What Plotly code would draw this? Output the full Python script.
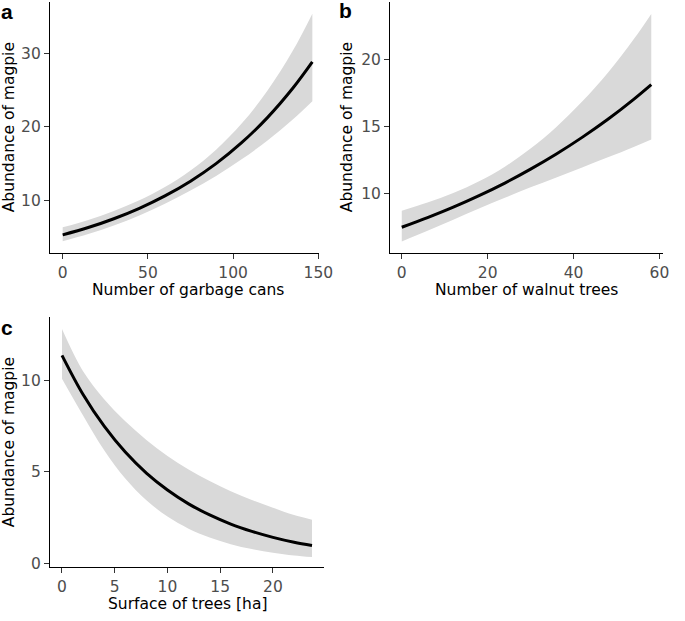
import plotly.graph_objects as go

W, H = 685, 621

# Panel a: garbage cans
a_x = [0, 15, 30, 45, 60, 75, 90, 105, 120, 135, 146.5]
a_fit = [5.30, 6.30, 7.50, 8.92, 10.61, 12.62, 15.01, 17.86, 21.24, 25.27, 28.87]
a_upper = [6.33, 7.34, 8.56, 10.01, 11.81, 14.06, 16.90, 20.46, 24.89, 30.37, 35.44]
a_lower = [4.44, 5.41, 6.58, 7.95, 9.53, 11.33, 13.33, 15.59, 18.13, 21.02, 23.52]

# Panel b: walnut trees
b_x = [0, 6, 12, 18, 24, 30, 36, 42, 48, 54, 58.1]
b_fit = [7.50, 8.22, 9.00, 9.86, 10.80, 11.84, 12.97, 14.21, 15.56, 17.05, 18.15]
b_upper = [8.73, 9.34, 10.05, 10.93, 12.02, 13.38, 14.99, 16.88, 19.04, 21.53, 23.43]
b_lower = [6.44, 7.23, 8.06, 8.90, 9.70, 10.48, 11.22, 11.96, 12.72, 13.50, 14.06]

# Panel c: surface of trees
c_x = [0, 2, 4, 6, 8, 10, 12, 14, 16, 18, 20, 22, 23.7]
c_fit = [11.40, 9.25, 7.51, 6.09, 4.94, 4.01, 3.25, 2.64, 2.14, 1.74, 1.41, 1.14, 0.96]
c_upper = [12.84, 10.52, 8.99, 7.78, 6.76, 5.88, 5.13, 4.50, 3.94, 3.46, 3.03, 2.64, 2.38]
c_lower = [10.12, 8.10, 6.19, 4.64, 3.45, 2.55, 1.89, 1.41, 1.04, 0.77, 0.57, 0.42, 0.33]

a_xticks = [0, 50, 100, 150]
a_yticks = [10, 20, 30]
b_xticks = [0, 20, 40, 60]
b_yticks = [10, 15, 20]
c_xticks = [0, 5, 10, 15, 20]
c_yticks = [0, 5, 10]

x_titles = ["Number of garbage cans", "Number of walnut trees", "Surface of trees [ha]"]
y_title = "Abundance of magpie"
panel_letters = ["a", "b", "c"]

RIBBON = "#D9D9D9"
FONT = "DejaVu Sans, Liberation Sans, Arial, sans-serif"
LETTER_FONT = "Liberation Sans, Arial, sans-serif"

fig = go.Figure()

panels = [
    (a_x, a_fit, a_upper, a_lower, "x", "y"),
    (b_x, b_fit, b_upper, b_lower, "x2", "y2"),
    (c_x, c_fit, c_upper, c_lower, "x3", "y3"),
]
for xs, fit, up, lo, xa, ya in panels:
    fig.add_trace(go.Scatter(x=xs, y=up, mode="lines", line=dict(width=0, shape="spline", color=RIBBON),
                             xaxis=xa, yaxis=ya, showlegend=False, hoverinfo="skip"))
    fig.add_trace(go.Scatter(x=xs, y=lo, mode="lines", line=dict(width=0, shape="spline", color=RIBBON),
                             fill="tonexty", fillcolor=RIBBON,
                             xaxis=xa, yaxis=ya, showlegend=False, hoverinfo="skip"))
    fig.add_trace(go.Scatter(x=xs, y=fit, mode="lines", line=dict(width=3, shape="spline", color="black"),
                             xaxis=xa, yaxis=ya, showlegend=False))


def px_x(p):
    return p / W


def px_y(p):
    return 1 - p / H


axis_common = dict(
    showline=True, linecolor="black", linewidth=1.2, mirror=False,
    ticks="outside", ticklen=5, tickwidth=1.2, tickcolor="#333333",
    showgrid=False, zeroline=False,
    tickfont=dict(family=FONT, size=15.5, color="#4D4D4D"),
    fixedrange=True,
)

fig.update_layout(
    width=W, height=H,
    margin=dict(l=0, r=0, t=0, b=0),
    plot_bgcolor="white", paper_bgcolor="white",
    font=dict(family=FONT),
    xaxis=dict(domain=[px_x(51), px_x(326)], range=[-7.47, 150.6], tickvals=a_xticks, anchor="y", **axis_common),
    yaxis=dict(domain=[px_y(255), px_y(2)], range=[2.84, 37.03], tickvals=a_yticks, anchor="x", **axis_common),
    xaxis2=dict(domain=[px_x(398.3), px_x(676.7)], range=[-2.7, 60.8], tickvals=b_xticks, anchor="y2", **axis_common),
    yaxis2=dict(domain=[px_y(255), px_y(2)], range=[5.58, 24.32], tickvals=b_yticks, anchor="x2", **axis_common),
    xaxis3=dict(domain=[px_x(51), px_x(331)], range=[-1.14, 24.86], tickvals=c_xticks, anchor="y3", **axis_common),
    yaxis3=dict(domain=[px_y(571.7), px_y(320)], range=[-0.22, 13.48], tickvals=c_yticks, anchor="x3", **axis_common),
)

ann = []
title_font = dict(family=FONT, size=15.5, color="black")
# x titles
for txt, cx, cy in zip(x_titles, [192, 537.5, 191], [292, 292, 609]):
    ann.append(dict(text=txt, x=px_x(cx), y=px_y(cy), xref="paper", yref="paper",
                    xanchor="center", yanchor="middle", showarrow=False, font=title_font))
# y titles
for cx, cy in [(10, 128.5), (355, 128.5), (10, 446)]:
    ann.append(dict(text=y_title, x=px_x(cx), y=px_y(cy), xref="paper", yref="paper", textangle=-90,
                    xanchor="center", yanchor="middle", showarrow=False, font=title_font))
# panel letters
for txt, cx, cy in zip(panel_letters, [7, 353, 7], [12, 11, 330]):
    ann.append(dict(text="<b>" + txt + "</b>", x=px_x(cx), y=px_y(cy), xref="paper", yref="paper",
                    xanchor="center", yanchor="middle", showarrow=False,
                    font=dict(family=LETTER_FONT, size=21, color="black")))
fig.update_layout(annotations=ann)

fig.write_html("out.html", post_script="document.body.style.margin='0px';",
               config={"displayModeBar": False})
